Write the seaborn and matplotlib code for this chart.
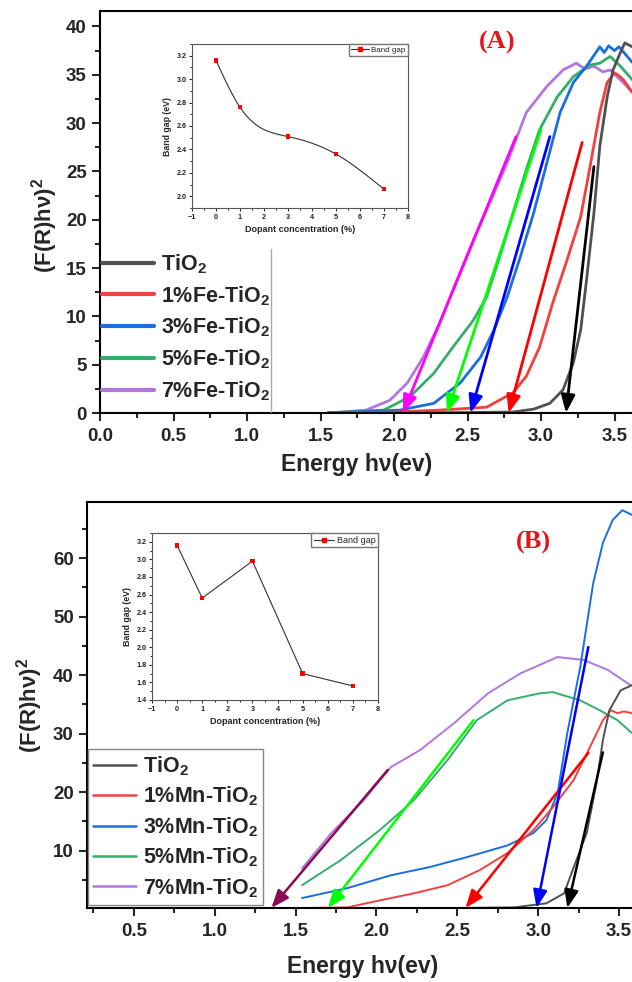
import numpy as np
import pandas as pd
import matplotlib
matplotlib.use("Agg")
import matplotlib.pyplot as plt
import seaborn as sns
from matplotlib.lines import Line2D
from matplotlib.ticker import MultipleLocator

# ---------------- data: panel A (Fe-doped) ----------------
a_labels = ["TiO$_2$", "1%Fe-TiO$_2$", "3%Fe-TiO$_2$", "5%Fe-TiO$_2$", "7%Fe-TiO$_2$"]
a_tio2_x = [1.55, 2.0, 2.5, 2.81, 2.95, 3.06, 3.15, 3.22, 3.27, 3.31, 3.36, 3.40, 3.45, 3.49, 3.54, 3.57, 3.62]
a_tio2_y = [0.0, 0.0, 0.05, 0.1, 0.4, 1.0, 2.4, 5.2, 8.6, 13.8, 20.7, 27.6, 32.7, 35.5, 37.3, 38.3, 37.9]
a_fe1_x = [1.55, 2.0, 2.31, 2.63, 2.81, 2.90, 2.99, 3.08, 3.17, 3.27, 3.33, 3.40, 3.45, 3.50, 3.53, 3.56, 3.62]
a_fe1_y = [0.0, 0.1, 0.3, 0.6, 2.1, 3.8, 6.8, 11.4, 15.5, 20.3, 25.2, 31.1, 34.2, 35.2, 34.9, 34.5, 33.2]
a_fe3_x = [1.55, 2.04, 2.27, 2.45, 2.59, 2.68, 2.77, 2.86, 2.95, 3.04, 3.13, 3.22, 3.31, 3.36, 3.40, 3.43, 3.46, 3.50, 3.53, 3.57, 3.62]
a_fe3_y = [0.0, 0.3, 1.0, 3.1, 5.8, 8.6, 12.0, 16.2, 20.7, 25.9, 31.1, 34.2, 35.9, 37.0, 37.9, 37.3, 38.0, 37.5, 37.9, 37.2, 36.3]
a_fe5_x = [1.55, 1.93, 2.11, 2.27, 2.40, 2.54, 2.63, 2.72, 2.81, 2.90, 2.99, 3.11, 3.22, 3.33, 3.40, 3.47, 3.54, 3.62]
a_fe5_y = [0.0, 0.3, 1.7, 4.1, 6.8, 9.6, 12.0, 16.2, 20.7, 25.2, 29.3, 32.7, 34.8, 36.0, 36.2, 36.9, 35.9, 34.5]
a_fe7_x = [1.55, 1.81, 1.97, 2.09, 2.20, 2.31, 2.43, 2.54, 2.65, 2.77, 2.90, 3.04, 3.15, 3.24, 3.30, 3.36, 3.42, 3.47, 3.56, 3.62]
a_fe7_y = [0.0, 0.3, 1.3, 3.1, 5.8, 9.3, 13.8, 17.9, 21.7, 25.9, 31.1, 33.8, 35.5, 36.2, 35.6, 35.9, 35.3, 35.5, 34.2, 33.2]
a_arrow_x0 = [3.36, 3.28, 3.06, 3.00, 2.83]
a_arrow_y0 = [25.5, 28.0, 28.6, 29.3, 28.6]
a_arrow_x1 = [3.17, 2.78, 2.52, 2.36, 2.06]
a_arrow_y1 = [0.0, 0.0, 0.0, 0.0, 0.0]
a_inset_conc = [0, 1, 3, 5, 7]
a_inset_gap = [3.16, 2.76, 2.51, 2.36, 2.06]

# ---------------- data: panel B (Mn-doped) ----------------
b_labels = ["TiO$_2$", "1%Mn-TiO$_2$", "3%Mn-TiO$_2$", "5%Mn-TiO$_2$", "7%Mn-TiO$_2$"]
b_tio2_x = [2.5, 2.85, 3.05, 3.16, 3.22, 3.30, 3.36, 3.40, 3.44, 3.51, 3.58]
b_tio2_y = [0.2, 0.3, 1.0, 2.7, 7.2, 13.0, 21.5, 28.9, 34.0, 37.4, 38.3]
b_mn1_x = [1.57, 1.82, 2.02, 2.23, 2.44, 2.64, 2.81, 2.97, 3.09, 3.22, 3.32, 3.40, 3.45, 3.49, 3.53, 3.58]
b_mn1_y = [0.2, 0.3, 1.5, 2.7, 4.1, 6.7, 9.6, 13.5, 17.4, 22.1, 27.7, 32.3, 34.0, 33.5, 33.8, 33.5]
b_mn3_x = [1.54, 1.82, 2.09, 2.33, 2.56, 2.81, 2.97, 3.05, 3.12, 3.18, 3.26, 3.34, 3.40, 3.46, 3.52, 3.58]
b_mn3_y = [1.9, 3.6, 5.8, 7.2, 8.9, 10.9, 13.0, 15.2, 19.8, 30.1, 41.4, 55.7, 62.6, 66.5, 68.2, 67.4]
b_mn5_x = [1.54, 1.78, 2.02, 2.23, 2.44, 2.62, 2.81, 3.01, 3.09, 3.26, 3.38, 3.49, 3.58]
b_mn5_y = [4.1, 8.4, 13.5, 18.6, 25.5, 32.3, 35.7, 36.9, 37.1, 35.7, 34.0, 32.3, 30.1]
b_mn7_x = [1.54, 1.72, 1.92, 2.09, 2.27, 2.48, 2.69, 2.89, 3.12, 3.28, 3.43, 3.57]
b_mn7_y = [7.0, 13.0, 18.6, 24.3, 27.2, 31.8, 36.9, 40.3, 43.1, 42.6, 40.9, 38.3]
b_arrow_x0 = [3.40, 3.31, 3.31, 2.60, 2.07]
b_arrow_y0 = [26.8, 26.7, 44.8, 32.3, 23.8]
b_arrow_x1 = [3.18, 2.55, 2.99, 1.70, 1.35]
b_arrow_y1 = [0.2, 0.2, 0.2, 0.2, 0.2]
b_inset_conc = [0, 1, 3, 5, 7]
b_inset_gap = [3.16, 2.56, 2.98, 1.70, 1.56]

series_colors = ["#515151", "#F14040", "#1A6FDF", "#37AD6B", "#B177DE"]
a_arrow_colors = ["#000000", "#FF0000", "#0000FF", "#00FF00", "#FF00FF"]
b_arrow_colors = ["#000000", "#FF0000", "#0000FF", "#00FF00", "#8B0A50"]

# ---------------- style ----------------
sns.set_style("ticks")
plt.rcParams["font.family"] = ["Liberation Sans", "DejaVu Sans"]
plt.rcParams["mathtext.fontset"] = "custom"
plt.rcParams["mathtext.bf"] = "Liberation Sans:bold"
plt.rcParams["mathtext.rm"] = "Liberation Sans"
plt.rcParams["mathtext.default"] = "bf"

W, H = 632, 982
fig = plt.figure(figsize=(W / 100, H / 100), dpi=100)


def rect(x0, y0, x1, y1):
    return [x0 / W, 1 - y1 / H, (x1 - x0) / W, (y1 - y0) / H]


def natural_spline(x, y, xs):
    x = np.asarray(x, float)
    y = np.asarray(y, float)
    n = len(x)
    h = np.diff(x)
    A = np.zeros((n, n))
    r = np.zeros(n)
    A[0, 0] = A[-1, -1] = 1
    for i in range(1, n - 1):
        A[i, i - 1] = h[i - 1]
        A[i, i] = 2 * (h[i - 1] + h[i])
        A[i, i + 1] = h[i]
        r[i] = 6 * ((y[i + 1] - y[i]) / h[i] - (y[i] - y[i - 1]) / h[i - 1])
    M = np.linalg.solve(A, r)
    out = np.empty_like(xs)
    for k, t in enumerate(xs):
        i = min(max(np.searchsorted(x, t) - 1, 0), n - 2)
        a, b = x[i], x[i + 1]
        hh = b - a
        out[k] = (M[i] * (b - t) ** 3 / (6 * hh) + M[i + 1] * (t - a) ** 3 / (6 * hh)
                  + (y[i] / hh - M[i] * hh / 6) * (b - t) + (y[i + 1] / hh - M[i + 1] * hh / 6) * (t - a))
    return out


def long_df(xs, ys, labels):
    frames = []
    for xx, yy, lab in zip(xs, ys, labels):
        frames.append(pd.DataFrame({"E": xx, "F": yy, "s": lab}))
    return pd.concat(frames, ignore_index=True)


def style_main(ax):
    for s in ["left", "bottom", "top"]:
        ax.spines[s].set_linewidth(1.5)
        ax.spines[s].set_color("black")
    ax.spines["right"].set_visible(False)
    ax.tick_params(which="both", direction="out", width=1.5, top=False, right=False,
                   labelsize=13.5, pad=3.5)
    ax.tick_params(which="major", length=6)
    ax.tick_params(which="minor", length=3.5)
    for t in ax.get_xticklabels() + ax.get_yticklabels():
        t.set_fontweight("bold")


def style_inset(ax):
    for s in ax.spines.values():
        s.set_linewidth(0.8)
        s.set_color("#555555")
    ax.tick_params(which="both", direction="out", width=0.7, labelsize=5.2, pad=1.5,
                   colors="#222222")
    ax.tick_params(which="major", length=2.5)
    ax.tick_params(which="minor", length=1.5)
    ax.xaxis.set_major_locator(MultipleLocator(1))
    ax.xaxis.set_minor_locator(MultipleLocator(0.5))
    ax.yaxis.set_major_locator(MultipleLocator(0.2))
    ax.yaxis.set_minor_locator(MultipleLocator(0.1))
    ax.set_xlim(-1, 8)
    for t in ax.get_xticklabels() + ax.get_yticklabels():
        t.set_fontweight("bold")
    ax.set_xlabel("Dopant concentration (%)", fontsize=6.5, fontweight="bold", labelpad=3)
    ax.set_ylabel("Band gap (eV)", fontsize=6.3, fontweight="bold", labelpad=3)


def draw_arrows(ax, x0, y0, x1, y1, colors, lw):
    for a, b, c, d, col in zip(x0, y0, x1, y1, colors):
        ax.annotate("", xy=(c, d), xytext=(a, b),
                    arrowprops=dict(arrowstyle="-|>,head_length=0.9,head_width=0.35",
                                    color=col, lw=lw, shrinkA=0, shrinkB=0,
                                    mutation_scale=12), zorder=5)


# ================= Panel A =================
axA = fig.add_axes(rect(100, 11, 632, 413))
dfA = long_df([a_tio2_x, a_fe1_x, a_fe3_x, a_fe5_x, a_fe7_x],
              [a_tio2_y, a_fe1_y, a_fe3_y, a_fe5_y, a_fe7_y], a_labels)
sns.lineplot(data=dfA, x="E", y="F", hue="s", hue_order=a_labels[::-1],
             palette=dict(zip(a_labels, series_colors)), lw=2.0, legend=False,
             estimator=None, sort=False, ax=axA)
draw_arrows(axA, a_arrow_x0, a_arrow_y0, a_arrow_x1, a_arrow_y1, a_arrow_colors, 2.0)
axA.set_xlim(0, 3.619)
axA.set_ylim(0, 41.6)
axA.xaxis.set_major_locator(MultipleLocator(0.5))
axA.xaxis.set_minor_locator(MultipleLocator(0.25))
axA.yaxis.set_major_locator(MultipleLocator(5))
axA.yaxis.set_minor_locator(MultipleLocator(2.5))
axA.xaxis.set_major_formatter(matplotlib.ticker.FormatStrFormatter("%.1f"))
style_main(axA)
axA.tick_params(axis="x", pad=5)
axA.set_xlabel("Energy hν(ev)", fontsize=16.5, fontweight="bold")
axA.set_ylabel("(F(R)hν)$^2$", fontsize=16, fontweight="bold")
axA.xaxis.label.set_va("center")
axA.yaxis.label.set_va("center")
axA.xaxis.set_label_coords(357 / W, 1 - 464 / H, transform=fig.transFigure)
axA.yaxis.set_label_coords(45 / W, 1 - 225 / H, transform=fig.transFigure)
handlesA = [Line2D([], [], color=c, lw=3) for c in series_colors]
legA = axA.legend(handlesA, a_labels, loc="upper left",
                  bbox_to_anchor=(100 / W, 1 - 250 / H), bbox_transform=fig.transFigure,
                  frameon=False, prop=dict(size=15.5, weight="bold"), handlelength=2.4,
                  handletextpad=0.35, labelspacing=0.38, borderaxespad=0, borderpad=0.1)
fig.add_artist(Line2D([271 / W, 271 / W], [1 - 249 / H, 1 - 412 / H], color="#aaaaaa",
                      lw=1.0, transform=fig.transFigure))
fig.text(497 / W, 1 - 42 / H, "(A)", color="#E8141C", fontsize=19, fontweight="bold",
         family=["Liberation Serif", "DejaVu Serif"], ha="center", va="center")

# inset A
insA = fig.add_axes(rect(192, 44, 408, 208))
xs_fine = np.linspace(min(a_inset_conc), max(a_inset_conc), 200)
sns.lineplot(x=xs_fine, y=natural_spline(a_inset_conc, a_inset_gap, xs_fine),
             color="#333333", lw=0.8, ax=insA)
sns.scatterplot(x=a_inset_conc, y=a_inset_gap, marker="s", color="#FF0000", s=10,
                edgecolor="none", ax=insA, zorder=3)
insA.set_ylim(1.9, 3.3)
style_inset(insA)
insA.legend([Line2D([], [], color="#333333", lw=0.8, marker="s", mfc="#FF0000", mec="#FF0000", ms=3)],
            ["Band gap"], loc="upper right", fontsize=5.8, borderaxespad=0, fancybox=False,
            edgecolor="#777777", framealpha=1, handlelength=2.2, borderpad=0.3, handletextpad=0.3)

# ================= Panel B =================
axB = fig.add_axes(rect(87, 502, 632, 908))
dfB = long_df([b_tio2_x, b_mn1_x, b_mn3_x, b_mn5_x, b_mn7_x],
              [b_tio2_y, b_mn1_y, b_mn3_y, b_mn5_y, b_mn7_y], b_labels)
sns.lineplot(data=dfB, x="E", y="F", hue="s", hue_order=b_labels[::-1],
             palette=dict(zip(b_labels, series_colors)), lw=1.4, legend=False,
             estimator=None, sort=False, ax=axB)
draw_arrows(axB, b_arrow_x0, b_arrow_y0, b_arrow_x1, b_arrow_y1, b_arrow_colors, 1.8)
axB.set_xlim(0.21, 3.58)
axB.set_ylim(0.2, 69.6)
axB.set_xticks([0.5, 1.0, 1.5, 2.0, 2.5, 3.0, 3.5])
axB.xaxis.set_minor_locator(MultipleLocator(0.25))
axB.set_yticks([10, 20, 30, 40, 50, 60])
axB.yaxis.set_minor_locator(MultipleLocator(5))
axB.xaxis.set_major_formatter(matplotlib.ticker.FormatStrFormatter("%.1f"))
style_main(axB)
axB.tick_params(axis="x", pad=5)
axB.set_xlabel("Energy hν(ev)", fontsize=16.5, fontweight="bold")
axB.set_ylabel("(F(R)hν)$^2$", fontsize=16, fontweight="bold")
axB.xaxis.label.set_va("center")
axB.yaxis.label.set_va("center")
axB.xaxis.set_label_coords(363 / W, 1 - 967 / H, transform=fig.transFigure)
axB.yaxis.set_label_coords(30 / W, 1 - 705 / H, transform=fig.transFigure)
handlesB = [Line2D([], [], color=c, lw=1.8) for c in series_colors]
legB = axB.legend(handlesB, b_labels, loc="lower left",
                  bbox_to_anchor=(88 / W, 1 - 905 / H), bbox_transform=fig.transFigure,
                  frameon=True, fancybox=False, edgecolor="#888888", framealpha=1,
                  prop=dict(size=15.5, weight="bold"), handlelength=2.0,
                  handletextpad=0.3, labelspacing=0.32, borderaxespad=0, borderpad=0.25)
legB.get_frame().set_linewidth(1.0)
fig.text(533 / W, 1 - 542 / H, "(B)", color="#E8141C", fontsize=19, fontweight="bold",
         family=["Liberation Serif", "DejaVu Serif"], ha="center", va="center")

# inset B
insB = fig.add_axes(rect(152, 533, 378, 700))
sns.lineplot(x=b_inset_conc, y=b_inset_gap, color="#333333", lw=0.8, ax=insB,
             estimator=None, sort=False)
sns.scatterplot(x=b_inset_conc, y=b_inset_gap, marker="s", color="#FF0000", s=10,
                edgecolor="none", ax=insB, zorder=3)
insB.set_ylim(1.4, 3.3)
style_inset(insB)
insB.legend([Line2D([], [], color="#333333", lw=0.8, marker="s", mfc="#FF0000", mec="#FF0000", ms=3)],
            ["Band gap"], loc="upper right", fontsize=6.5, borderaxespad=0, fancybox=False,
            edgecolor="#777777", framealpha=1, handlelength=2.2, borderpad=0.3, handletextpad=0.3)

fig.savefig("out.png", dpi=100)
